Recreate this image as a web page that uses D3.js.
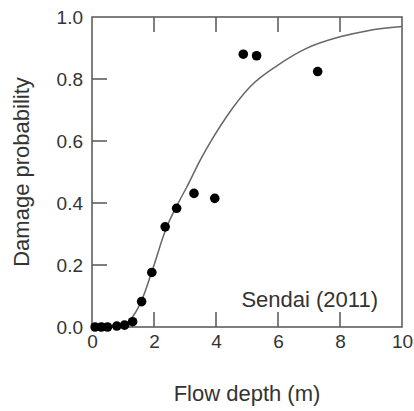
<!DOCTYPE html>
<html>
<head>
<meta charset="utf-8">
<script src="https://cdn.jsdelivr.net/npm/d3@7"></script>
<style>
  body { margin: 0; background: #fff; }
  svg { display: block; font-family: "Liberation Sans", Arial, sans-serif; }
</style>
</head>
<body>
<svg width="414" height="411"></svg>
<script>
// observed points (flow depth in m, damage probability)
var depth = [0.1, 0.3, 0.5, 0.8, 1.05, 1.31, 1.6, 1.93, 2.36, 2.73, 3.29, 3.96, 4.88, 5.31, 7.28];
var prob = [0, 0, 0, 0.003, 0.006, 0.017, 0.082, 0.176, 0.323, 0.383, 0.431, 0.415, 0.88, 0.875, 0.824];

// fitted curve
var curveDepth = [0, 0.5, 0.9, 1.2, 1.6, 1.93, 2.4, 2.73, 3.05, 3.5, 3.9, 4.35, 5.1, 6.0, 6.9, 8.0, 8.9, 10];
var curveProb = [0, 0, 0.004, 0.02, 0.085, 0.178, 0.32, 0.39, 0.45, 0.54, 0.61, 0.68, 0.775, 0.845, 0.898, 0.936, 0.956, 0.969];

var xTicks = [0, 2, 4, 6, 8, 10];
var yTicks = [0, 0.2, 0.4, 0.6, 0.8, 1.0];

var svg = d3.select("svg");
var axisColor = "#555";
var textColor = "#333";
var tickLen = 15;

var x = d3.scaleLinear().domain([0, 10]).range([92, 402]);
var y = d3.scaleLinear().domain([0, 1]).range([327, 17]);

// frame
svg.append("rect")
    .attr("x", x(0))
    .attr("y", y(1))
    .attr("width", x(10) - x(0))
    .attr("height", y(0) - y(1))
    .attr("fill", "none")
    .attr("stroke", axisColor)
    .attr("stroke-width", 1.5);

// bottom axis labels
var xAxis = svg.append("g")
    .attr("transform", "translate(0," + y(0) + ")")
    .call(d3.axisBottom(x).tickValues(xTicks).tickSize(0).tickPadding(8).tickFormat(d3.format("d")));
xAxis.select(".domain").remove();
xAxis.selectAll("text")
    .attr("fill", textColor)
    .style("font-size", "19px");

// left axis labels
var yAxis = svg.append("g")
    .attr("transform", "translate(" + x(0) + ",0)")
    .call(d3.axisLeft(y).tickValues(yTicks).tickSize(0).tickPadding(9).tickFormat(d3.format(".1f")));
yAxis.select(".domain").remove();
yAxis.selectAll("text")
    .attr("fill", textColor)
    .style("font-size", "19px");

// inward tick marks on bottom, top and left (none on the right)
var innerX = xTicks.filter(function(d) { return d > 0 && d < 10; });
var innerY = yTicks.filter(function(d) { return d > 0 && d < 1; });

var tickPath = "";
innerX.forEach(function(d) {
    tickPath += "M" + x(d) + "," + y(0) + "V" + (y(0) - tickLen);
    tickPath += "M" + x(d) + "," + y(1) + "V" + (y(1) + tickLen);
});
innerY.forEach(function(d) {
    tickPath += "M" + x(0) + "," + y(d) + "H" + (x(0) + tickLen);
});

svg.append("path")
    .attr("d", tickPath)
    .attr("fill", "none")
    .attr("stroke", axisColor)
    .attr("stroke-width", 1.5);

// fitted curve
var line = d3.line()
    .x(function(d) { return x(d[0]); })
    .y(function(d) { return y(d[1]); })
    .curve(d3.curveMonotoneX);

svg.append("path")
    .datum(d3.zip(curveDepth, curveProb))
    .attr("d", line)
    .attr("fill", "none")
    .attr("stroke", "#666")
    .attr("stroke-width", 1.5);

// points
svg.append("g")
    .selectAll("circle")
    .data(d3.zip(depth, prob))
    .enter().append("circle")
    .attr("cx", function(d) { return x(d[0]); })
    .attr("cy", function(d) { return y(d[1]); })
    .attr("r", 4.8)
    .attr("fill", "#000");

// labels
svg.append("text")
    .attr("x", 378)
    .attr("y", 307)
    .attr("text-anchor", "end")
    .attr("fill", textColor)
    .style("font-size", "22px")
    .text("Sendai (2011)");

svg.append("text")
    .attr("x", (x(0) + x(10)) / 2)
    .attr("y", 401)
    .attr("text-anchor", "middle")
    .attr("fill", textColor)
    .style("font-size", "22px")
    .text("Flow depth (m)");

svg.append("text")
    .attr("transform", "translate(29," + ((y(0) + y(1)) / 2) + ") rotate(-90)")
    .attr("text-anchor", "middle")
    .attr("fill", textColor)
    .style("font-size", "22px")
    .text("Damage probability");
</script>
</body>
</html>
